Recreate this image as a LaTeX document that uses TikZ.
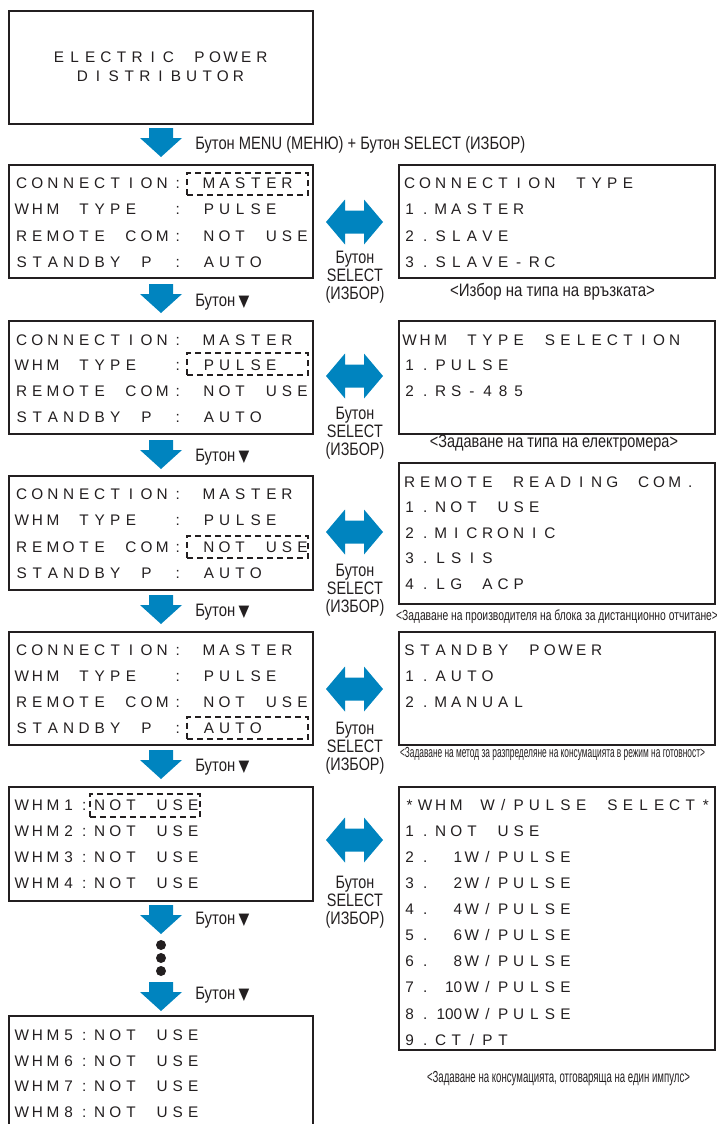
\documentclass[tikz,border=0pt]{standalone}
\usepackage{fontspec}
\usepackage{graphicx}
\setmainfont{Liberation Sans}
\newfontfamily\lcdfont{Liberation Sans}
\newfontfamily\narrowfont[FakeStretch=0.8]{Liberation Sans}
\newfontfamily\symfont{DejaVu Sans}
\newlength\pxu \setlength\pxu{0.75pt}
\newlength\lcdw \setlength\lcdw{11.7pt}
\ExplSyntaxOn
\NewDocumentCommand\lcd{m}
 {
  \str_map_inline:nn {#1}
   {
    \str_if_eq:nnTF {##1} {_}
     { \hbox_to_wd:nn {\lcdw} {} }
     { \makebox[\lcdw][c]{##1} }
   }
 }
\ExplSyntaxOff
\newcommand\lcdnum[1]{\makebox[2\lcdw][r]{#1\kern1.5pt}}
\newcommand\tri{{\symfont\scalebox{0.75}[0.9]{▼}}}
\definecolor{arrowblue}{HTML}{0084BF}
\definecolor{ink}{HTML}{231F20}
\tikzset{
 lcdbox/.style={draw=ink, line width=1.5pt, inner sep=0pt, anchor=north west},
 selbox/.style={draw=ink, line width=1.5pt, dash pattern=on 4.5pt off 3pt, inner sep=0pt},
 lcdline/.style={font=\lcdfont\fontsize{11.5pt}{11.5pt}\selectfont, text=ink, inner sep=0pt, anchor=base west},
 lbl/.style={font=\narrowfont\fontsize{13.5pt}{13.5pt}\selectfont, text=ink, inner sep=0pt, anchor=base west},
 btnlbl/.style={font=\narrowfont\fontsize{13.5pt}{13.5pt}\selectfont, text=ink, inner sep=0pt, align=center},
 capt/.style={font=\narrowfont\fontsize{13.5pt}{13.5pt}\selectfont, text=ink, inner sep=0pt, anchor=base},
 smallcapt/.style={capt, font=\narrowfont\fontsize{11pt}{11pt}\selectfont},
 blackdot/.style={circle, fill=ink, inner sep=0pt, minimum size=10\pxu},
 downarr/.pic={\fill[arrowblue] (-12,0) -- (12,0) -- (12,10) -- (21,10) -- (0,29) -- (-21,10) -- (-12,10) -- cycle;},
 duoarr/.pic={\fill[arrowblue] (-28.5,0) -- (-9.5,-22.5) -- (-9.5,-11.5) -- (9.5,-11.5) -- (9.5,-22.5) -- (28.5,0) -- (9.5,22.5) -- (9.5,11.5) -- (-9.5,11.5) -- (-9.5,22.5) -- cycle;}
}
\begin{document}
\begin{tikzpicture}[x=0.75pt,y=-0.75pt]
\path[use as bounding box] (0,0) rectangle (717,1124);
\clip (0,0) rectangle (717,1124);

% top box
\node[lcdbox, minimum width=304\pxu, minimum height=113\pxu] (topbox) at (8,10) {};
\node[lcdline, anchor=base] (t1) at (160.5,63) {\lcd{ELECTRIC_POWER}};
\node[lcdline, anchor=base] (t2) at (160.5,81.5) {\lcd{DISTRIBUTOR}};

% arrows down
\pic (a0) at (161,128) {downarr};
\node[lbl] (la0) at (195,149.5) {\resizebox{330\pxu}{\height}{Бутон MENU (МЕНЮ) + Бутон SELECT (ИЗБОР)}};

% ---------- row 1
\node[lcdbox, minimum width=304\pxu, minimum height=113\pxu] (L1) at (8,164) {};
\node[lcdline] (L1a) at (13.7,188.5) {\lcd{CONNECTION:_MASTER}};
\node[lcdline] (L1b) at (13.7,214.5) {\lcd{WHM_TYPE__:_PULSE}};
\node[lcdline] (L1c) at (13.7,241.5) {\lcd{REMOTE_COM:_NOT_USE}};
\node[lcdline] (L1d) at (13.7,267.5) {\lcd{STANDBY_P_:_AUTO}};
\node[selbox, minimum width=121\pxu, minimum height=22\pxu] (D1) at (247.5,184) {};

\pic (x1) at (354.5,222) {duoarr};
\node[btnlbl] (s1) at (355,277) {Бутон\\SELECT\\(ИЗБОР)};

\node[lcdbox, minimum width=316\pxu, minimum height=113\pxu] (R1) at (398,164) {};
\node[lcdline] (R1a) at (401.5,188.5) {\lcd{CONNECTION_TYPE}};
\node[lcdline] (R1b) at (401.5,214.5) {\lcd{1.MASTER}};
\node[lcdline] (R1c) at (401.5,241.5) {\lcd{2.SLAVE}};
\node[lcdline] (R1d) at (401.5,267.5) {\lcd{3.SLAVE-RC}};
\node[capt] (c1) at (552.5,296.5) {\resizebox{205\pxu}{\height}{<Избор на типа на връзката>}};

\pic (a1) at (161,284) {downarr};
\node[lbl] (la1) at (195,306.4) {\resizebox{54\pxu}{\height}{Бутон\,\tri}};

% ---------- row 2
\node[lcdbox, minimum width=304\pxu, minimum height=113\pxu] (L2) at (8,320) {};
\node[lcdline] (L2a) at (13.7,345.5) {\lcd{CONNECTION:_MASTER}};
\node[lcdline] (L2b) at (13.7,370.5) {\lcd{WHM_TYPE__:_PULSE}};
\node[lcdline] (L2c) at (13.7,396.5) {\lcd{REMOTE_COM:_NOT_USE}};
\node[lcdline] (L2d) at (13.7,422.5) {\lcd{STANDBY_P_:_AUTO}};
\node[selbox, minimum width=121\pxu, minimum height=22\pxu] (D2) at (247.5,364) {};

\pic (x2) at (354.5,376) {duoarr};
\node[btnlbl] (s2) at (355,433) {Бутон\\SELECT\\(ИЗБОР)};

\node[lcdbox, minimum width=316\pxu, minimum height=113\pxu] (R2) at (398,320) {};
\node[lcdline] (R2a) at (401.5,345.5) {\lcd{WHM_TYPE_SELECTION}};
\node[lcdline] (R2b) at (401.5,370.5) {\lcd{1.PULSE}};
\node[lcdline] (R2c) at (401.5,396.5) {\lcd{2.RS-485}};
\node[capt] (c2) at (554,447) {\resizebox{248\pxu}{\height}{<Задаване на типа на електромера>}};

\pic (a2) at (161,440) {downarr};
\node[lbl] (la2) at (195,461.4) {\resizebox{54\pxu}{\height}{Бутон\,\tri}};

% ---------- row 3
\node[lcdbox, minimum width=304\pxu, minimum height=114\pxu] (L3) at (8,475) {};
\node[lcdline] (L3a) at (13.7,499.5) {\lcd{CONNECTION:_MASTER}};
\node[lcdline] (L3b) at (13.7,525.5) {\lcd{WHM_TYPE__:_PULSE}};
\node[lcdline] (L3c) at (13.7,552.5) {\lcd{REMOTE_COM:_NOT_USE}};
\node[lcdline] (L3d) at (13.7,578.5) {\lcd{STANDBY_P_:_AUTO}};
\node[selbox, minimum width=121\pxu, minimum height=22\pxu] (D3) at (247.5,547) {};

\pic (x3) at (354.5,532) {duoarr};
\node[btnlbl] (s3) at (355,590) {Бутон\\SELECT\\(ИЗБОР)};

\node[lcdbox, minimum width=316\pxu, minimum height=141\pxu] (R3) at (398,462) {};
\node[lcdline] (R3a) at (401.5,487.5) {\lcd{REMOTE_READING_COM.}};
\node[lcdline] (R3b) at (401.5,512.5) {\lcd{1.NOT_USE}};
\node[lcdline] (R3c) at (401.5,538.5) {\lcd{2.MICRONIC}};
\node[lcdline] (R3d) at (401.5,563.5) {\lcd{3.LSIS}};
\node[lcdline] (R3e) at (401.5,589.5) {\lcd{4.LG_ACP}};
\node[smallcapt] (c3) at (557,620) {\resizebox{322\pxu}{\height}{<Задаване на производителя на блока за дистанционно отчитане>}};

\pic (a3) at (161,595) {downarr};
\node[lbl] (la3) at (195,616.4) {\resizebox{54\pxu}{\height}{Бутон\,\tri}};

% ---------- row 4
\node[lcdbox, minimum width=304\pxu, minimum height=113\pxu] (L4) at (8,631) {};
\node[lcdline] (L4a) at (13.7,655.5) {\lcd{CONNECTION:_MASTER}};
\node[lcdline] (L4b) at (13.7,681.5) {\lcd{WHM_TYPE__:_PULSE}};
\node[lcdline] (L4c) at (13.7,707.5) {\lcd{REMOTE_COM:_NOT_USE}};
\node[lcdline] (L4d) at (13.7,733.5) {\lcd{STANDBY_P_:_AUTO}};
\node[selbox, minimum width=121\pxu, minimum height=22\pxu] (D4) at (247.5,727.5) {};

\pic (x4) at (354.5,689) {duoarr};
\node[btnlbl] (s4) at (355,748.5) {Бутон\\SELECT\\(ИЗБОР)};

\node[lcdbox, minimum width=316\pxu, minimum height=113\pxu] (R4) at (398,631) {};
\node[lcdline] (R4a) at (401.5,655.5) {\lcd{STANDBY_POWER}};
\node[lcdline] (R4b) at (401.5,681.5) {\lcd{1.AUTO}};
\node[lcdline] (R4c) at (401.5,707.5) {\lcd{2.MANUAL}};
\node[smallcapt] (c4) at (552.5,757) {\resizebox{305\pxu}{\height}{<Задаване на метод за разпределяне на консумацията в режим на готовност>}};

\pic (a4) at (161,750) {downarr};
\node[lbl] (la4) at (195,771.4) {\resizebox{54\pxu}{\height}{Бутон\,\tri}};

% ---------- row 5
\node[lcdbox, minimum width=304\pxu, minimum height=114\pxu] (L5) at (8,786) {};
\node[lcdline] (L5a) at (13.7,810.5) {\lcd{WHM1:NOT_USE}};
\node[lcdline] (L5b) at (13.7,836.5) {\lcd{WHM2:NOT_USE}};
\node[lcdline] (L5c) at (13.7,862.5) {\lcd{WHM3:NOT_USE}};
\node[lcdline] (L5d) at (13.7,888.5) {\lcd{WHM4:NOT_USE}};
\node[selbox, minimum width=110\pxu, minimum height=23\pxu] (D5) at (145,805.5) {};

\pic (x5) at (354.5,840) {duoarr};
\node[btnlbl] (s5) at (355,902) {Бутон\\SELECT\\(ИЗБОР)};

\node[lcdbox, minimum width=316\pxu, minimum height=263\pxu] (R5) at (398,786) {};
\node[lcdline] (R5a) at (401.5,810.5) {\lcd{*WHM_W/PULSE_SELECT*}};
\node[lcdline] (R5b) at (401.5,836.5) {\lcd{1.NOT_USE}};
\node[lcdline] (R5c) at (401.5,862.5) {\lcd{2.}\lcdnum{1}\lcd{W/PULSE}};
\node[lcdline] (R5d) at (401.5,888.5) {\lcd{3.}\lcdnum{2}\lcd{W/PULSE}};
\node[lcdline] (R5e) at (401.5,914.5) {\lcd{4.}\lcdnum{4}\lcd{W/PULSE}};
\node[lcdline] (R5f) at (401.5,940.5) {\lcd{5.}\lcdnum{6}\lcd{W/PULSE}};
\node[lcdline] (R5g) at (401.5,966.5) {\lcd{6.}\lcdnum{8}\lcd{W/PULSE}};
\node[lcdline] (R5h) at (401.5,992.5) {\lcd{7.}\lcdnum{10}\lcd{W/PULSE}};
\node[lcdline] (R5i) at (401.5,1019.5) {\lcd{8.}\lcdnum{100}\lcd{W/PULSE}};
\node[lcdline] (R5j) at (401.5,1045.5) {\lcd{9.CT/PT}};
\node[capt, font=\narrowfont\fontsize{12pt}{12pt}\selectfont] (c5) at (558.5,1082.5) {\resizebox{263\pxu}{\height}{<Задаване на консумацията, отговаряща на един импулс>}};

\pic (a5) at (161,905) {downarr};
\node[lbl] (la5) at (195,924.4) {\resizebox{54\pxu}{\height}{Бутон\,\tri}};

\node[blackdot] (dt1) at (161,945) {};
\node[blackdot] (dt2) at (161,958) {};
\node[blackdot] (dt3) at (161,971) {};

\pic (a6) at (161,982) {downarr};
\node[lbl] (la6) at (195,999.4) {\resizebox{54\pxu}{\height}{Бутон\,\tri}};

% ---------- row 6 (cut at bottom)
\node[lcdbox, minimum width=304\pxu, minimum height=130\pxu] (L6) at (8,1015) {};
\node[lcdline] (L6a) at (13.7,1040.5) {\lcd{WHM5:NOT_USE}};
\node[lcdline] (L6b) at (13.7,1066.5) {\lcd{WHM6:NOT_USE}};
\node[lcdline] (L6c) at (13.7,1091.5) {\lcd{WHM7:NOT_USE}};
\node[lcdline] (L6d) at (13.7,1117.5) {\lcd{WHM8:NOT_USE}};
\end{tikzpicture}
\end{document}
